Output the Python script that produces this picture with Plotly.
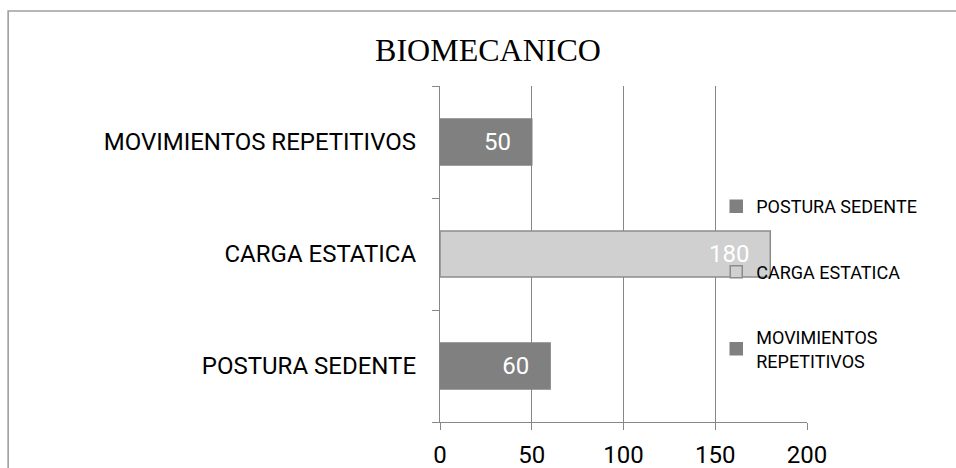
import plotly.graph_objects as go

categories = ["POSTURA SEDENTE", "CARGA ESTATICA", "MOVIMIENTOS REPETITIVOS"]
values = [60, 180, 50]
legend_names = ["POSTURA SEDENTE", "CARGA ESTATICA", "MOVIMIENTOS<br>REPETITIVOS"]
fill_colors = ["#808080", "#d0d0d0", "#808080"]
line_colors = ["#808080", "#8c8c8c", "#808080"]
x_ticks = [0, 50, 100, 150, 200]

LABEL_FONT = "Roboto"
fig = go.Figure()
for cat, val, name, fc, lc in zip(categories, values, legend_names, fill_colors, line_colors):
    fig.add_trace(go.Bar(
        y=[cat], x=[val], orientation="h", name=name,
        legendgroup=cat,
        width=0.41,
        marker=dict(color=fc, line=dict(color=lc, width=1.5)),
        texttemplate="%{x}\u00a0\u00a0\u00a0",
        textposition="inside", insidetextanchor="end",
        textfont=dict(color="white", size=24, family=LABEL_FONT),
        cliponaxis=False,
    ))

W, H = 956, 468
px_left, px_right, px_top, px_bottom = 440, 806.7, 86, 421.7
L = px_left
T = px_top
pw = px_right - px_left
ph = px_bottom - px_top
R = W - L - pw
B = H - T - ph

fig.update_layout(
    width=W, height=H,
    margin=dict(l=L, r=R, t=T, b=B, autoexpand=False),
    paper_bgcolor="white", plot_bgcolor="white",
    barmode="overlay",
    showlegend=True,
    title=dict(text="BIOMECANICO", x=488 / W, xref="container", xanchor="center",
               y=1 - 50 / H, yref="container", yanchor="middle",
               font=dict(family="Liberation Serif", size=32, color="black")),
    legend=dict(x=(756 - 40 - px_left) / pw, y=(px_bottom - 188) / ph, xanchor="left", yanchor="top",
                bgcolor="rgba(0,0,0,0)", traceorder="grouped", tracegroupgap=39,
                font=dict(family=LABEL_FONT, size=18, color="black"),
                itemwidth=30),
    xaxis=dict(range=[0, 200], tickvals=x_ticks, showgrid=True, gridcolor="#878787",
               gridwidth=1.3, showline=True, linecolor="#878787", linewidth=1.3,
               ticks="outside", ticklen=7, tickcolor="#878787", tickwidth=1.3,
               ticklabelstandoff=4,
               tickfont=dict(family=LABEL_FONT, size=24, color="black"),
               zeroline=False, fixedrange=True, automargin=False),
    yaxis=dict(categoryorder="array", categoryarray=categories,
               showline=True, linecolor="#878787", linewidth=1.3,
               ticks="outside", tickson="boundaries", ticklen=7, tickcolor="#878787",
               tickwidth=1.3, showgrid=False,
               ticklabelstandoff=18,
               tickfont=dict(family=LABEL_FONT, size=24, color="black"),
               fixedrange=True, automargin=False),
    shapes=[dict(type="rect", xref="paper", yref="paper",
                 x0=(8.5 - px_left) / pw, x1=(980 - px_left) / pw,
                 y0=-0.5, y1=(px_bottom - 11) / ph,
                 line=dict(color="#a0a0a0", width=1.6), layer="below")],
)

fig.write_html("out.html", config={"displayModeBar": False},
               post_script="document.body.style.margin='0';document.body.style.overflow='hidden';")
